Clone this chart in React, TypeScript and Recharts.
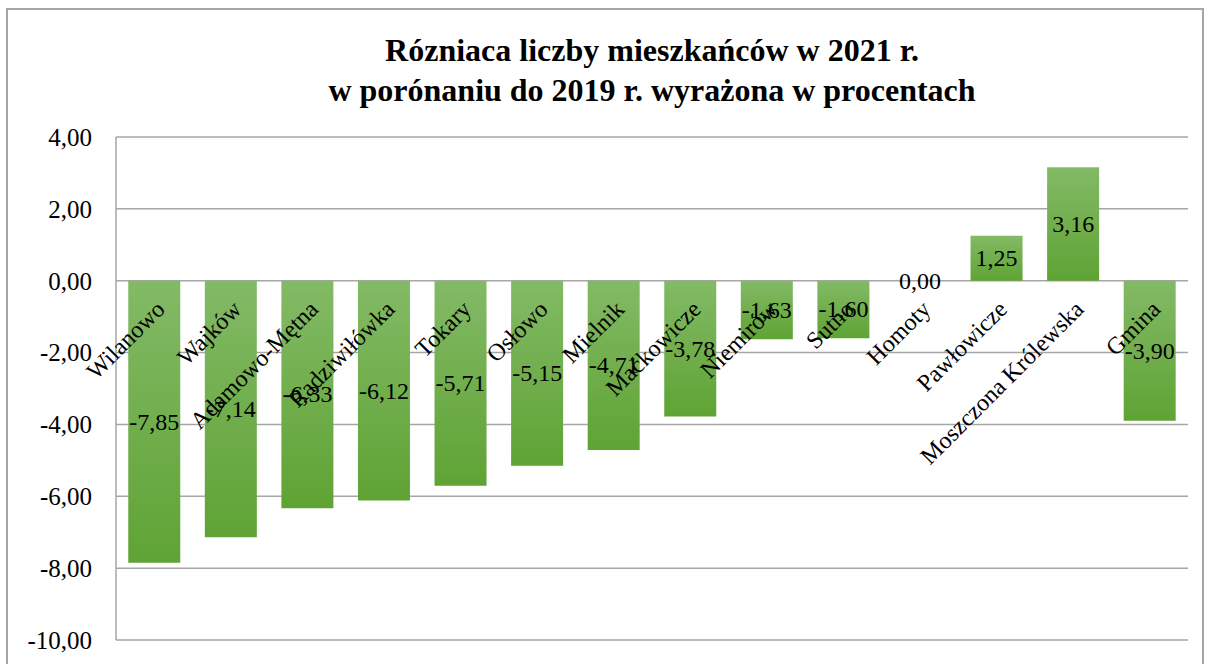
import React from 'react';
import {
  ComposedChart,
  Bar,
  Line,
  XAxis,
  YAxis,
  CartesianGrid,
  LabelList,
} from 'recharts';

const categories = [
  'Wilanowo',
  'Wajków',
  'Adamowo-Mętna',
  'Radziwiłówka',
  'Tokary',
  'Osłowo',
  'Mielnik',
  'Maćkowicze',
  'Niemirów',
  'Sutno',
  'Homoty',
  'Pawłowicze',
  'Moszczona Królewska',
  'Gmina',
];

const changePct = [-7.85, -7.14, -6.33, -6.12, -5.71, -5.15, -4.71, -3.78, -1.63, -1.6, 0.0, 1.25, 3.16, -3.9];

const yTicks = [-10, -8, -6, -4, -2, 0, 2, 4];

const titleLines = ['Rózniaca liczby mieszkańców w 2021 r.', 'w porónaniu do 2019 r. wyrażona w procentach'];

const FONT = '"Liberation Serif", "Times New Roman", serif';
const GRID = '#a6a6a6';

const fmt = (v: number) => v.toFixed(2).replace('.', ',');

// category names sit under the zero line, rotated like in Excel
function CategoryLabel(props: any) {
  const { x, y, value } = props;
  const ax = x + 12;
  const ay = y + 30;
  return (
    <text
      x={ax}
      y={ay}
      transform={`rotate(-45, ${ax}, ${ay})`}
      textAnchor="end"
      fontFamily={FONT}
      fontSize={24}
      fill="#000"
    >
      {value}
    </text>
  );
}

// value label centred in the bar (also works for the zero-height bar)
function ValueLabel(props: any) {
  const { x, y, value } = props;
  return (
    <text
      x={x}
      y={y}
      textAnchor="middle"
      dominantBaseline="central"
      fontFamily={FONT}
      fontSize={24}
      fill="#000"
    >
      {fmt(Number(value))}
    </text>
  );
}

export default function App() {
  const data = categories.map((name, i) => ({ name, value: changePct[i], base: 0 }));

  return (
    <div style={{ position: 'fixed', left: 0, top: 0, width: 1206, height: 664, overflow: 'hidden', background: '#fff' }}>
      <div
        style={{
          position: 'absolute',
          left: 6,
          top: 8,
          width: 1198,
          height: 720,
          border: `2px solid ${GRID}`,
          boxSizing: 'border-box',
        }}
      />
      <div
        style={{
          position: 'absolute',
          left: 302,
          width: 700,
          top: 30,
          textAlign: 'center',
          fontFamily: FONT,
          fontWeight: 'bold',
          fontSize: 32,
          lineHeight: '40px',
          whiteSpace: 'nowrap',
        }}
      >
        {titleLines.map((t) => (
          <div key={t}>{t}</div>
        ))}
      </div>
      <div style={{ position: 'absolute', left: 0, top: 0 }}>
        <ComposedChart
          width={1206}
          height={664}
          data={data}
          margin={{ top: 137, right: 18, bottom: 24, left: 0 }}
          barCategoryGap="16%"
        >
          <defs>
            <linearGradient id="barFill" x1="0" y1="0" x2="0" y2="1">
              <stop offset="0%" stopColor="#83ba66" />
              <stop offset="100%" stopColor="#5fa334" />
            </linearGradient>
          </defs>
          <CartesianGrid vertical={false} stroke={GRID} strokeWidth={1.5} />
          <XAxis dataKey="name" hide />
          <YAxis
            width={116}
            domain={[-10, 4]}
            ticks={yTicks}
            interval={0}
            tickFormatter={fmt}
            axisLine={{ stroke: GRID, strokeWidth: 1.5 }}
            tickLine={false}
            tickSize={6}
            tickMargin={18}
            tick={{ fontFamily: FONT, fontSize: 25, fill: '#000' }}
          />
          <Bar dataKey="value" fill="url(#barFill)" isAnimationActive={false} />
          <Line
            dataKey="base"
            stroke="none"
            dot={false}
            activeDot={false}
            legendType="none"
            isAnimationActive={false}
          >
            <LabelList dataKey="name" content={<CategoryLabel />} />
          </Line>
          <Line
            dataKey={(d: any) => d.value / 2}
            stroke="none"
            dot={false}
            activeDot={false}
            legendType="none"
            isAnimationActive={false}
          >
            <LabelList dataKey="value" content={<ValueLabel />} />
          </Line>
        </ComposedChart>
      </div>
    </div>
  );
}
